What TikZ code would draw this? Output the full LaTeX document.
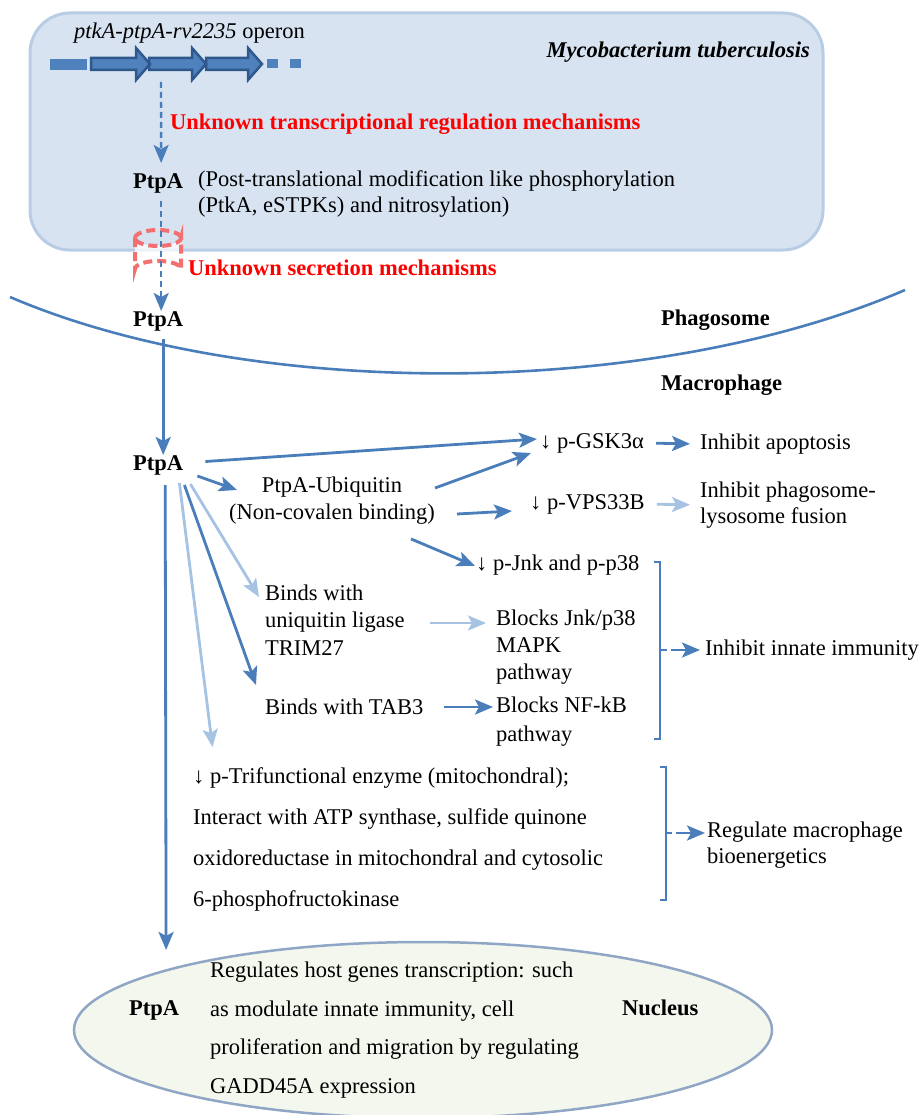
\documentclass[tikz,border=0pt]{standalone}
\usepackage{fontspec}
\setmainfont{Liberation Serif}
\usetikzlibrary{arrows.meta,shapes.geometric}
\definecolor{arrblue}{RGB}{74,126,187}
\definecolor{arrlite}{RGB}{166,195,228}
\definecolor{genefill}{RGB}{79,129,189}
\definecolor{genedraw}{RGB}{46,88,140}
\definecolor{cellfill}{RGB}{215,227,241}
\definecolor{celldraw}{RGB}{184,204,228}
\definecolor{secred}{RGB}{244,112,112}
\definecolor{nucfill}{RGB}{244,247,238}
\definecolor{nucdraw}{RGB}{143,166,196}

\begin{document}
\begin{tikzpicture}[x=1pt,y=-1pt,
    txt/.style={anchor=west, inner sep=0pt, align=left, font=\fontsize{22.5}{27}\selectfont},
    hd/.style={txt, font=\bfseries\fontsize{22.5}{27}\selectfont},
    warn/.style={hd, text=red},
    arr/.style={draw=arrblue, line width=2.8pt, -{Stealth[length=18pt,width=15pt,inset=4pt]}},
    lite/.style={arr, draw=arrlite},
    dots/.style={arr, line width=2.4pt, dash pattern=on 6pt off 4pt},
    brk/.style={draw=arrblue, line width=2.4pt},
    gene/.style={fill=genefill, draw=genedraw, line width=2.5pt},
    secr/.style={draw=secred, line width=4pt, dash pattern=on 9pt off 5pt},
    cell/.style={fill=cellfill, draw=celldraw, line width=3pt, rounded corners=40pt},
  ]
  \useasboundingbox (0,0) rectangle (922,1115);

  \draw[cell] (30,13) rectangle (823,250);
  \fill[genefill] (50,59) rectangle (87,70);
  \foreach \a/\b in {206/248, 149/192, 91/136} {
    \draw[gene] (\a,58) -- (\b,58) -- (\b,48) -- (\b+14,64) -- (\b,80) -- (\b,70) -- (\a,70) -- cycle;
  }
  \draw[draw=genefill, line width=9pt, dash pattern=on 11pt off 12pt] (267,64) -- (302,64);
  \coordinate (op2) at (161,82);

  \node[txt] (operon) at (74,33) {\textit{ptkA-ptpA-rv2235} operon};
  \node[hd, anchor=east] (mtb) at (810,52) {\textit{Mycobacterium tuberculosis}};
  \node[warn] (unk1) at (170,124) {Unknown transcriptional regulation mechanisms};
  \node[hd] (ptpa1) at (133,183) {PtpA};
  \node[txt, font=\fontsize{22.5}{26}\selectfont] (ptm) at (198,194) {(Post-translational modification like phosphorylation\\(PtkA, eSTPKs) and nitrosylation)};

  \filldraw[secr, fill=white, fill opacity=.75] (135,238) -- (135,269) arc[start angle=180, end angle=360, x radius=23, y radius=8] -- (181,238) arc[start angle=0, end angle=180, x radius=23, y radius=8] -- cycle;
  \draw[secr] (135,238) arc[start angle=180, end angle=360, x radius=23, y radius=8];
  \node[warn] (unk2) at (188,268) {Unknown secretion mechanisms};

  \node[hd] (ptpa2) at (133,321) {PtpA};
  \node[hd] (phago) at (661,320) {Phagosome};
  \node[hd] (macro) at (661,385) {Macrophage};
  \draw[arrblue, line width=2.6pt] (10,297) .. controls (250,400) and (650,400) .. (905,290);

  \node[hd] (ptpa3) at (133,465) {PtpA};
  \node[txt] (gsk) at (540,443) {↓ p-GSK3α};
  \node[txt, anchor=center, align=center] (ubq) at (332,501) {PtpA-Ubiquitin\\(Non-covalen binding)};
  \node[txt] (vps) at (530,504) {↓ p-VPS33B};
  \node[txt] (apo) at (700,444) {Inhibit apoptosis};
  \node[txt, font=\fontsize{22.5}{26}\selectfont] (fus) at (700,505) {Inhibit phagosome-\\lysosome fusion};
  \node[txt] (jnk) at (476,565) {↓ p-Jnk and p-p38};
  \node[txt, font=\fontsize{22.5}{27.5}\selectfont] (trim) at (265,620) {Binds with\\uniquitin ligase\\TRIM27};
  \node[txt] (tab) at (265,707) {Binds with TAB3};
  \node[txt] (mapk) at (496,647) {Blocks Jnk/p38\\MAPK\\pathway};
  \node[txt, font=\fontsize{22.5}{29}\selectfont] (nfkb) at (496,722) {Blocks NF-kB\\pathway};
  \node[txt] (innate) at (705,650) {Inhibit innate immunity};
  \node[txt, font=\fontsize{22.5}{41}\selectfont] (trif) at (193,839) {↓ p-Trifunctional enzyme (mitochondral);\\Interact with ATP synthase, sulfide quinone\\oxidoreductase in mitochondral and cytosolic\\6-phosphofructokinase};
  \node[txt, font=\fontsize{22.5}{26}\selectfont] (bioe) at (707,845) {Regulate macrophage\\bioenergetics};

  \node[ellipse, draw=nucdraw, fill=nucfill, line width=2.5pt, minimum width=698pt, minimum height=176pt, inner sep=0pt] (nucleus) at (423,1030) {};
  \node[hd] (ptpa4) at (129,1010) {PtpA};
  \node[txt, font=\fontsize{22.5}{38.5}\selectfont] (reg) at (210,1030) {Regulates host genes transcription: such\\as modulate innate immunity, cell\\proliferation and migration by regulating\\GADD45A expression};
  \node[hd] (nuc) at (622,1008) {Nucleus};

  \draw[dots, shorten >=10pt] (op2) -- ([xshift=3pt]ptpa1.north);
  \draw[dots, shorten <=8pt] ([xshift=3pt]ptpa1.south) -- ([xshift=3pt]ptpa2.north);
  \draw[arr, shorten <=8pt] ([xshift=5pt]ptpa2.south) -- ([xshift=5pt]ptpa3.north);

  \draw[arr, shorten <=22pt] ([yshift=2pt]ptpa3.east) -- ([xshift=-3pt,yshift=4pt]gsk.west);
  \draw[arr] ([xshift=14pt,yshift=-11pt]ptpa3.east) -- ([xshift=8pt,yshift=11pt]ubq.west);
  \draw[arr] ([yshift=13pt]ubq.east) -- ([xshift=-9pt,yshift=-10pt]gsk.west);
  \draw[arr] ([xshift=22pt,yshift=-13pt]ubq.east) -- ([xshift=-18pt,yshift=-7pt]vps.west);
  \draw[arr] ([xshift=-24pt,yshift=-14pt]ubq.south east) -- ([xshift=-1pt,yshift=-1pt]jnk.west);
  \draw[arr, shorten <=12pt, shorten >=10pt] (gsk.east) -- (apo.west);
  \draw[lite, shorten <=12pt, shorten >=10pt] (vps.east) -- (fus.west);

  \draw[lite] ([xshift=7pt,yshift=-9pt]ptpa3.south east) -- ([xshift=-6pt,yshift=23pt]trim.west);
  \draw[arr] ([xshift=1pt,yshift=-10pt]ptpa3.south east) -- ([xshift=-9pt,yshift=22pt]tab.west);
  \draw[lite, shorten >=20pt] ([xshift=-4pt,yshift=-8pt]ptpa3.south east) -- ([xshift=22pt]trif.north west);
  \draw[arr, shorten >=50pt] ([xshift=7pt,yshift=-10pt]ptpa3.south) -- ([xshift=12pt]ptpa4.north);
  \draw[lite] ([xshift=25pt,yshift=-3pt]trim.east) -- ([xshift=-10pt,yshift=24pt]mapk.west);
  \draw[arr, shorten <=20pt] (tab.east) -- ([xshift=-3pt,yshift=15pt]nfkb.west);

  \draw[brk] (654,562) -- (660,562) -- (660,739) -- (654,739) (660,650) -- (667,650);
  \coordinate (br1) at (671,650);
  \draw[arr, shorten >=5pt] (br1) -- (innate.west);
  \draw[brk] (660,767) -- (666,767) -- (666,900) -- (660,900) (666,833) -- (672,833);
  \coordinate (br2) at (676,833);
  \draw[arr, shorten >=2pt] (br2) -- ([yshift=12pt]bioe.west);
\end{tikzpicture}
\end{document}
